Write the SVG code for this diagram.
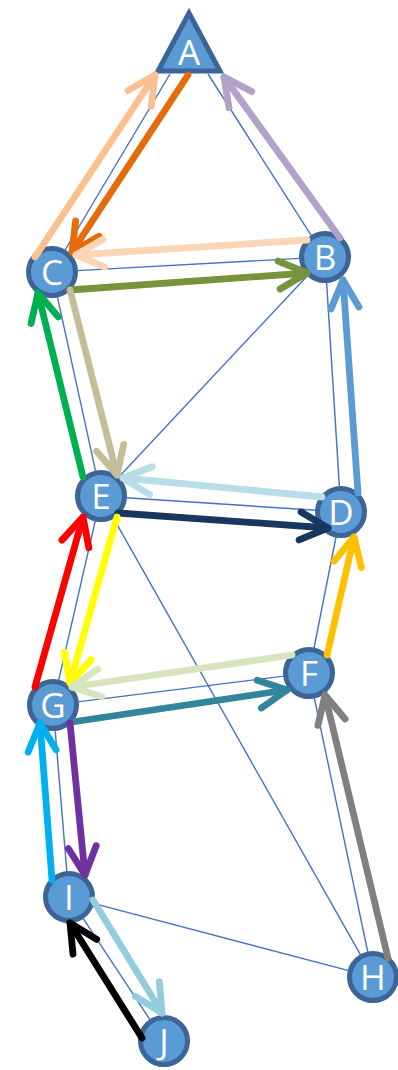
<svg xmlns="http://www.w3.org/2000/svg" width="398" height="1070" viewBox="0 0 398 1070">
<style>
.node{fill:#5B9BD5;stroke:#3C6496;stroke-width:5}
.lbl{fill:#FFFFFF;font-family:"Open Sans","Noto Sans",sans-serif;font-size:35px;text-anchor:middle}
.thin{stroke:#4472C4;stroke-width:1.4;fill:none}
.arr{stroke-width:6.8;fill:none;stroke-linecap:round}
.head{fill:none;stroke-width:6.8;stroke-linecap:round;stroke-linejoin:round}
</style>
<defs>
<marker id="m1" markerUnits="userSpaceOnUse" orient="auto" overflow="visible" markerWidth="1" markerHeight="1"><path class="head" stroke="#FAC090" d="M-28,-14 L0,0 L-28,14"/></marker>
<marker id="m2" markerUnits="userSpaceOnUse" orient="auto" overflow="visible" markerWidth="1" markerHeight="1"><path class="head" stroke="#E46C0A" d="M-28,-14 L0,0 L-28,14"/></marker>
<marker id="m3" markerUnits="userSpaceOnUse" orient="auto" overflow="visible" markerWidth="1" markerHeight="1"><path class="head" stroke="#B3A2C7" d="M-28,-14 L0,0 L-28,14"/></marker>
<marker id="m4" markerUnits="userSpaceOnUse" orient="auto" overflow="visible" markerWidth="1" markerHeight="1"><path class="head" stroke="#FBD5B5" d="M-28,-14 L0,0 L-28,14"/></marker>
<marker id="m5" markerUnits="userSpaceOnUse" orient="auto" overflow="visible" markerWidth="1" markerHeight="1"><path class="head" stroke="#77933C" d="M-28,-14 L0,0 L-28,14"/></marker>
<marker id="m6" markerUnits="userSpaceOnUse" orient="auto" overflow="visible" markerWidth="1" markerHeight="1"><path class="head" stroke="#00B050" d="M-28,-14 L0,0 L-28,14"/></marker>
<marker id="m7" markerUnits="userSpaceOnUse" orient="auto" overflow="visible" markerWidth="1" markerHeight="1"><path class="head" stroke="#C4BD97" d="M-28,-14 L0,0 L-28,14"/></marker>
<marker id="m8" markerUnits="userSpaceOnUse" orient="auto" overflow="visible" markerWidth="1" markerHeight="1"><path class="head" stroke="#5B9BD5" d="M-28,-14 L0,0 L-28,14"/></marker>
<marker id="m9" markerUnits="userSpaceOnUse" orient="auto" overflow="visible" markerWidth="1" markerHeight="1"><path class="head" stroke="#B7DEE8" d="M-28,-14 L0,0 L-28,14"/></marker>
<marker id="m10" markerUnits="userSpaceOnUse" orient="auto" overflow="visible" markerWidth="1" markerHeight="1"><path class="head" stroke="#17375E" d="M-28,-14 L0,0 L-28,14"/></marker>
<marker id="m11" markerUnits="userSpaceOnUse" orient="auto" overflow="visible" markerWidth="1" markerHeight="1"><path class="head" stroke="#FF0000" d="M-28,-14 L0,0 L-28,14"/></marker>
<marker id="m12" markerUnits="userSpaceOnUse" orient="auto" overflow="visible" markerWidth="1" markerHeight="1"><path class="head" stroke="#FFFF00" d="M-28,-14 L0,0 L-28,14"/></marker>
<marker id="m13" markerUnits="userSpaceOnUse" orient="auto" overflow="visible" markerWidth="1" markerHeight="1"><path class="head" stroke="#FFC000" d="M-28,-14 L0,0 L-28,14"/></marker>
<marker id="m14" markerUnits="userSpaceOnUse" orient="auto" overflow="visible" markerWidth="1" markerHeight="1"><path class="head" stroke="#D7E4BD" d="M-28,-14 L0,0 L-28,14"/></marker>
<marker id="m15" markerUnits="userSpaceOnUse" orient="auto" overflow="visible" markerWidth="1" markerHeight="1"><path class="head" stroke="#31859C" d="M-28,-14 L0,0 L-28,14"/></marker>
<marker id="m16" markerUnits="userSpaceOnUse" orient="auto" overflow="visible" markerWidth="1" markerHeight="1"><path class="head" stroke="#00B0F0" d="M-28,-14 L0,0 L-28,14"/></marker>
<marker id="m17" markerUnits="userSpaceOnUse" orient="auto" overflow="visible" markerWidth="1" markerHeight="1"><path class="head" stroke="#7030A0" d="M-28,-14 L0,0 L-28,14"/></marker>
<marker id="m18" markerUnits="userSpaceOnUse" orient="auto" overflow="visible" markerWidth="1" markerHeight="1"><path class="head" stroke="#808080" d="M-28,-14 L0,0 L-28,14"/></marker>
<marker id="m19" markerUnits="userSpaceOnUse" orient="auto" overflow="visible" markerWidth="1" markerHeight="1"><path class="head" stroke="#000000" d="M-28,-14 L0,0 L-28,14"/></marker>
<marker id="m20" markerUnits="userSpaceOnUse" orient="auto" overflow="visible" markerWidth="1" markerHeight="1"><path class="head" stroke="#93CDDD" d="M-28,-14 L0,0 L-28,14"/></marker>
</defs>
<rect width="398" height="1070" fill="#FFFFFF"/>
<g id="nodes">
<g id="node-A"><polygon class="node" points="189,13 158,71 220,71"/><text class="lbl" x="189" y="65">A</text></g>
<g id="node-B"><circle class="node" cx="325" cy="257" r="23.5"/><text class="lbl" x="325" y="269.5">B</text></g>
<g id="node-C"><circle class="node" cx="52" cy="272" r="23.5"/><text class="lbl" x="52" y="284.5">C</text></g>
<g id="node-D"><circle class="node" cx="341" cy="512" r="23.5"/><text class="lbl" x="341" y="524.5">D</text></g>
<g id="node-E"><circle class="node" cx="101" cy="496" r="23.5"/><text class="lbl" x="101" y="508.5">E</text></g>
<g id="node-F"><circle class="node" cx="309" cy="673" r="23.5"/><text class="lbl" x="309" y="685.5">F</text></g>
<g id="node-G"><circle class="node" cx="53" cy="705" r="23.5"/><text class="lbl" x="53" y="717.5">G</text></g>
<g id="node-H"><circle class="node" cx="373" cy="977" r="23.5"/><text class="lbl" x="373" y="989.5">H</text></g>
<g id="node-I"><circle class="node" cx="69" cy="897" r="23.5"/><text class="lbl" x="69" y="909.5">I</text></g>
<g id="node-J"><circle class="node" cx="164" cy="1041" r="23.5"/><text class="lbl" x="164" y="1053.5">J</text></g>
</g>
<g id="connectors">
<g id="edges">
<line class="thin" x1="170" y1="74" x2="64.8" y2="250.5"/>
<line class="thin" x1="208" y1="74" x2="311.5" y2="235.9"/>
<line class="thin" x1="77" y1="270.6" x2="300" y2="258.4"/>
<line class="thin" x1="307.9" y1="275.2" x2="118.1" y2="477.8"/>
<line class="thin" x1="326.6" y1="282" x2="339.4" y2="487"/>
<line class="thin" x1="57.3" y1="296.4" x2="95.7" y2="471.6"/>
<line class="thin" x1="126" y1="497.7" x2="316" y2="510.3"/>
<line class="thin" x1="95.4" y1="520.4" x2="58.6" y2="680.6"/>
<line class="thin" x1="113.3" y1="517.8" x2="360.7" y2="955.2"/>
<line class="thin" x1="336.1" y1="536.5" x2="313.9" y2="648.5"/>
<line class="thin" x1="77.8" y1="701.9" x2="284.2" y2="676.1"/>
<line class="thin" x1="55.1" y1="729.9" x2="66.9" y2="872.1"/>
<line class="thin" x1="314.2" y1="697.5" x2="367.9" y2="952.5"/>
<line class="thin" x1="93.2" y1="903.4" x2="348.8" y2="970.6"/>
<line class="thin" x1="82.8" y1="917.9" x2="150.2" y2="1020.1"/>
</g>
<g id="arrows">
<path class="arr" stroke="#FAC090" marker-end="url(#m1)" d="M35,257 L155,75"/>
<path class="arr" stroke="#E46C0A" marker-end="url(#m2)" d="M188,75 L72,252"/>
<path class="arr" stroke="#B3A2C7" marker-end="url(#m3)" d="M340,238 L224,77"/>
<path class="arr" stroke="#FBD5B5" marker-end="url(#m4)" d="M307,240 L76,255"/>
<path class="arr" stroke="#77933C" marker-end="url(#m5)" d="M70,290 L307,273"/>
<path class="arr" stroke="#00B050" marker-end="url(#m6)" d="M83,477 L38,293"/>
<path class="arr" stroke="#C4BD97" marker-end="url(#m7)" d="M70,290 L117,475"/>
<path class="arr" stroke="#5B9BD5" marker-end="url(#m8)" d="M358,493 L343,280"/>
<path class="arr" stroke="#B7DEE8" marker-end="url(#m9)" d="M322,497 L123,478"/>
<path class="arr" stroke="#17375E" marker-end="url(#m10)" d="M118,513 L328,528"/>
<path class="arr" stroke="#FF0000" marker-end="url(#m11)" d="M35,687 L83,517"/>
<path class="arr" stroke="#FFFF00" marker-end="url(#m12)" d="M117,517 L70,683"/>
<path class="arr" stroke="#FFC000" marker-end="url(#m13)" d="M327,655 L354,537"/>
<path class="arr" stroke="#D7E4BD" marker-end="url(#m14)" d="M292,655 L72,687"/>
<path class="arr" stroke="#31859C" marker-end="url(#m15)" d="M72,722 L287,690"/>
<path class="arr" stroke="#00B0F0" marker-end="url(#m16)" d="M52,880 L40,723"/>
<path class="arr" stroke="#7030A0" marker-end="url(#m17)" d="M70,723 L85,875"/>
<path class="arr" stroke="#808080" marker-end="url(#m18)" d="M388,958 L325,695"/>
<path class="arr" stroke="#000000" marker-end="url(#m19)" d="M142,1038 L70,923"/>
<path class="arr" stroke="#93CDDD" marker-end="url(#m20)" d="M93,900 L162,1013"/>
</g>
</g>
</svg>
